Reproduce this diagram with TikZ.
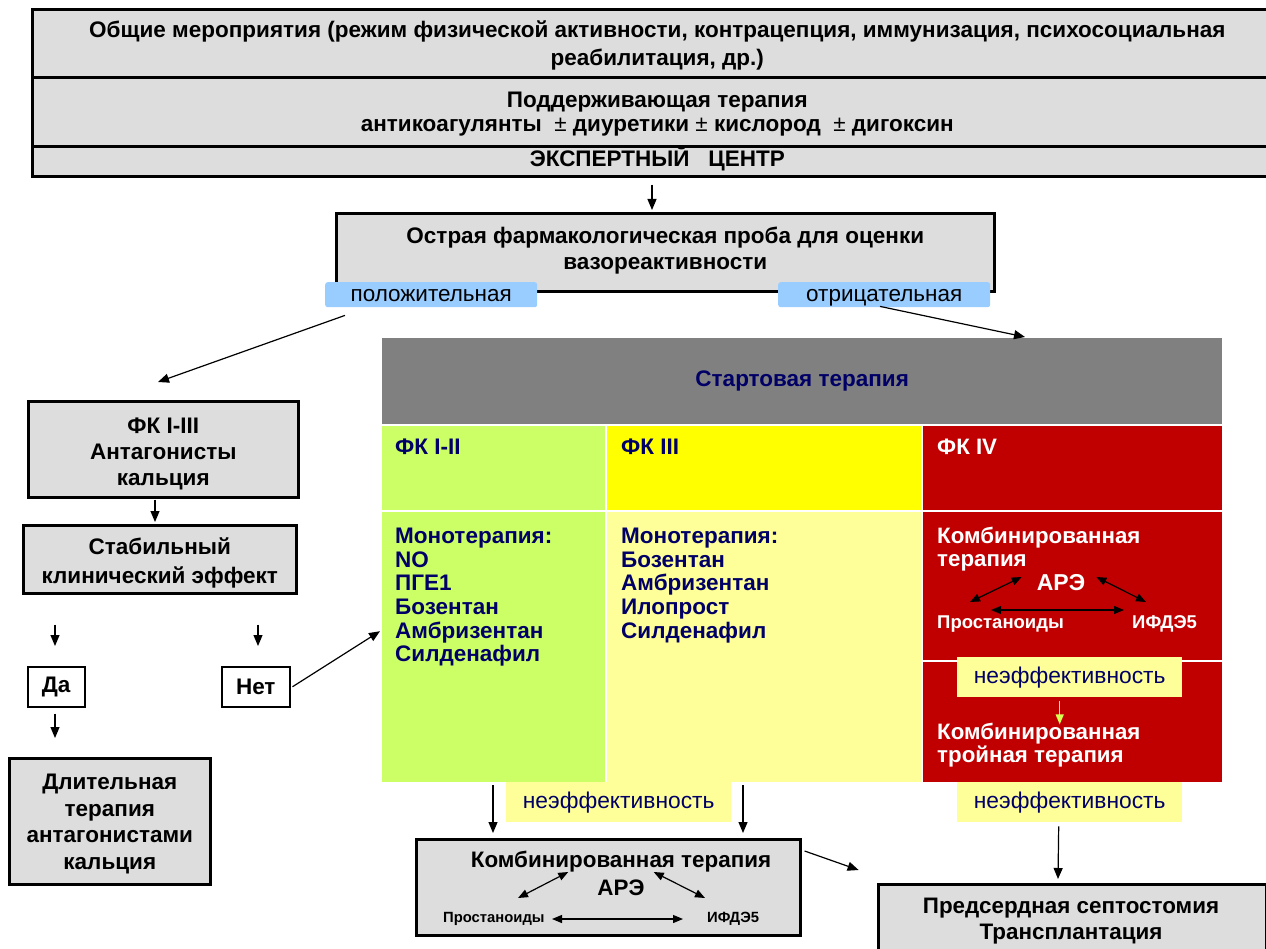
\documentclass[tikz,border=0pt]{standalone}
\usepackage{fontspec}
\setmainfont{Liberation Sans}
\usetikzlibrary{arrows.meta,calc}
\definecolor{boxgray}{HTML}{DDDDDD}
\definecolor{hdrgray}{HTML}{808080}
\definecolor{navy}{HTML}{000066}
\definecolor{lgreen}{HTML}{CCFF66}
\definecolor{yel}{HTML}{FFFF00}
\definecolor{pyel}{HTML}{FFFF99}
\definecolor{dred}{HTML}{C00000}
\definecolor{lblue}{HTML}{99CCFF}
\newcommand{\myfs}[2]{\fontsize{#1}{#2}\selectfont}
\newcommand{\tb}[1]{\begin{tabular}{@{}c@{}}#1\end{tabular}}
\begin{document}
\begin{tikzpicture}[x=1pt,y=-1pt,
  gbox/.style={draw=black, line width=2.6pt, fill=boxgray, inner sep=0pt, anchor=north west},
  btext/.style={inner sep=0pt, align=center, font=\bfseries\myfs{22.5}{26}},
  wbox/.style={draw=black, line width=1.5pt, fill=white, inner sep=0pt, anchor=north west, font=\bfseries\myfs{22.5}{24}},
  cell/.style={inner sep=0pt, anchor=north west, draw=none},
  ctext/.style={anchor=north west, inner sep=0pt, align=left, font=\bfseries\myfs{22.5}{23.6}, text=navy},
  wtext/.style={anchor=north west, inner sep=0pt, align=left, font=\bfseries\myfs{22.3}{23}, text=white},
  lab/.style={fill=lblue, rounded corners=2.5pt, inner sep=0pt, anchor=north west, font=\myfs{22.5}{24}, text height=16pt, text depth=3pt},
  nelab/.style={fill=pyel, inner sep=0pt, anchor=north west, font=\myfs{22.8}{24}, text=navy, text height=16pt, text depth=3pt},
  conn/.style={line width=1.2pt, -{Triangle[width=9pt,length=11pt]}},
  dconn/.style={line width=1.2pt, {Triangle[width=8pt,length=10pt]}-{Triangle[width=8pt,length=10pt]}},
]
\useasboundingbox (0,0) rectangle (1266,949);
\clip (0,0) rectangle (1266,949);
\fill[white] (0,0) rectangle (1266,949);

% top block
\node[gbox, minimum width=1250, minimum height=68] (top1) at (31,8) {};
\node[btext, font=\bfseries\myfs{22.5}{28}] (top1t) at ($(top1.center)+(0,3)$)
  {\tb{Общие мероприятия (режим физической активности, контрацепция, иммунизация, психосоциальная\\реабилитация, др.)}};
\node[gbox, minimum width=1250, minimum height=69] (top2) at (31,76) {};
\node[btext, font=\bfseries\myfs{22.5}{24}] (top2t) at ($(top2.center)+(0,3)$)
  {\tb{Поддерживающая терапия\\антикоагулянты \ {\mdseries ±} диуретики {\mdseries ±} кислород \ {\mdseries ±} дигоксин}};
\node[gbox, minimum width=1250, minimum height=30] (top3) at (31,145) {};
\node[btext] (top3t) at ($(top3.center)+(0,-3)$) {ЭКСПЕРТНЫЙ \ \ ЦЕНТР};

% vasoreactivity test
\node[gbox, minimum width=658, minimum height=78] (test) at (335,212) {};
\node[btext] (testt) at ($(test.center)+(0,-1)$) {\tb{Острая фармакологическая проба для оценки\\вазореактивности}};
\node[lab, minimum width=212, minimum height=25] (pos) at (325,282) {положительная};
\node[lab, minimum width=212, minimum height=25] (neg) at (778,282) {отрицательная};

% start therapy table
\node[cell, fill=hdrgray, minimum width=840, minimum height=86, font=\bfseries\myfs{22.5}{24}, text=navy] (hdr) at (382,338) {Стартовая терапия};
\node[cell, fill=lgreen, minimum width=223, minimum height=84] (c11) at (382,426) {};
\node[cell, fill=yel, minimum width=314, minimum height=84] (c12) at (607,426) {};
\node[cell, fill=dred, minimum width=299, minimum height=84] (c13) at (923,426) {};
\node[cell, fill=lgreen, minimum width=223, minimum height=270] (c21) at (382,512) {};
\node[cell, fill=pyel, minimum width=314, minimum height=270] (c22) at (607,512) {};
\node[cell, fill=dred, minimum width=299, minimum height=148] (c23) at (923,512) {};
\node[cell, fill=dred, minimum width=299, minimum height=120] (c33) at (923,662) {};

\node[ctext] (t11) at (395,439) {ФК I-II};
\node[ctext] (t12) at (621,439) {ФК III};
\node[wtext] (t13) at (937,439) {ФК IV};
\node[ctext] (t21) at (395,528) {Монотерапия:\\NO\\ПГЕ1\\Бозентан\\Амбризентан\\Силденафил};
\node[ctext] (t22) at (621,528) {Монотерапия:\\Бозентан\\Амбризентан\\Илопрост\\Силденафил};
\node[wtext] (t23) at (937,527) {Комбинированная\\терапия};
\node[inner sep=0pt, text=white, font=\bfseries\myfs{23}{24}] (are1) at (1061,583) {АРЭ};
\node[inner sep=0pt, anchor=west, text=white, font=\bfseries\myfs{18.5}{20}] (pr1) at (937,624) {Простаноиды};
\node[inner sep=0pt, anchor=west, text=white, font=\bfseries\myfs{18.5}{20}] (if1) at (1132,624) {ИФДЭ5};
\draw[dconn] ($(pr1.west)+(33,-22)$) -- ($(are1.west)+(-15,-6)$);
\draw[dconn] ($(are1.east)+(11,-6)$) -- ($(if1.west)+(14,-22)$);
\draw[dconn] ($(pr1.west)+(54,-14)$) -- ($(if1.west)+(-8,-14)$);

\node[nelab, minimum width=225, minimum height=40] (ne1) at (957,657) {неэффективность};
\draw[line width=1.2pt, draw=lgreen!80!yellow, -{Triangle[width=8pt,length=10pt]}] ($(ne1.south)+(-10,4)$) -- ($(ne1.south)+(-10,27)$);
\node[wtext] (t33) at (937,723) {Комбинированная\\тройная терапия};

% calcium antagonist branch
\node[gbox, minimum width=270, minimum height=96] (fk) at (27,400) {};
\node[btext] (fkt) at ($(fk.center)+(0,5)$) {\tb{ФК I-III\\Антагонисты\\кальция}};
\node[gbox, minimum width=273, minimum height=68] (stab) at (22,524) {};
\node[btext, font=\bfseries\myfs{22.5}{29}] (stabt) at ($(stab.center)+(0,4)$) {\tb{Стабильный\\клинический эффект}};
\node[wbox, minimum width=57, minimum height=40] (da) at (27,666) {Да};
\node[wbox, minimum width=68, minimum height=40] (net) at (221,666) {Нет};
\node[gbox, minimum width=201, minimum height=126] (long) at (8,757) {};
\node[btext, font=\bfseries\myfs{22.5}{26.7}] (longt) at ($(long.center)+(0,3)$) {\tb{Длительная\\терапия\\антагонистами\\кальция}};

% bottom
\node[nelab, minimum width=225, minimum height=40] (ne2) at (506,782) {неэффективность};
\node[nelab, minimum width=225, minimum height=40] (ne3) at (957,782) {неэффективность};
\node[gbox, minimum width=384, minimum height=96] (combo) at (415,838) {};
\node[inner sep=0pt, font=\bfseries\myfs{22.4}{24}] (cb1) at (621,862) {Комбинированная терапия};
\node[inner sep=0pt, font=\bfseries\myfs{22.4}{24}] (cb2) at (621,888) {АРЭ};
\node[inner sep=0pt, anchor=west, font=\bfseries\myfs{14.8}{16}] (cbp) at (443,919) {Простаноиды};
\node[inner sep=0pt, anchor=west, font=\bfseries\myfs{14.8}{16}] (cbi) at (707,919) {ИФДЭ5};
\draw[dconn] ($(cbp.west)+(75,-21)$) -- ($(cb2.west)+(-29,-16)$);
\draw[dconn] ($(cb2.east)+(9,-16)$) -- ($(cbi.west)+(-2,-21)$);
\draw[dconn] ($(cbp.west)+(109,0)$) -- ($(cbi.west)+(-24,0)$);
\node[gbox, minimum width=388, minimum height=90] (sept) at (877,883) {};
\node[btext, font=\bfseries\myfs{22.4}{26}] (septt) at (1071,921) {\tb{Предсердная септостомия\\Трансплантация}};

% connectors
\draw[conn] ([yshift=-7pt]top3.south -| 652,0) -- ([yshift=2pt]test.north -| 652,0);
\draw[conn] ($(pos.south west)+(20,8)$) -- ($(fk.north west)+(131,-18)$);
\draw[conn] ($(neg.south west)+(102,-1)$) -- ($(hdr.north west)+(643,-1)$);
\draw[conn] ([yshift=-1pt]fk.south -| 155,0) -- ([yshift=2pt]stab.north -| 155,0);
\draw[conn] ($(stab.south west)+(33,30)$) -- ($(da.north west)+(28,-20)$);
\draw[conn] ($(stab.south west)+(236,30)$) -- ($(net.north west)+(37,-20)$);
\draw[conn] ($(net.east)+(2,0)$) -- ($(c21.west)+(-2,-16)$);
\draw[conn] ($(da.south west)+(28,6)$) -- ($(long.north west)+(47,-19)$);
\draw[conn] ($(c21.south west)+(111,3)$) -- ([yshift=5pt]combo.north -| 493,0);
\draw[conn] ($(c22.south west)+(136,3)$) -- ([yshift=5pt]combo.north -| 743,0);
\draw[conn] ($(ne3.south)+(-11,4)$) -- ([yshift=4pt]sept.north -| 1058,0);
\draw[conn] ($(combo.north east)+(3,13)$) -- ($(combo.north east)+(57,32)$);
\end{tikzpicture}
\end{document}
